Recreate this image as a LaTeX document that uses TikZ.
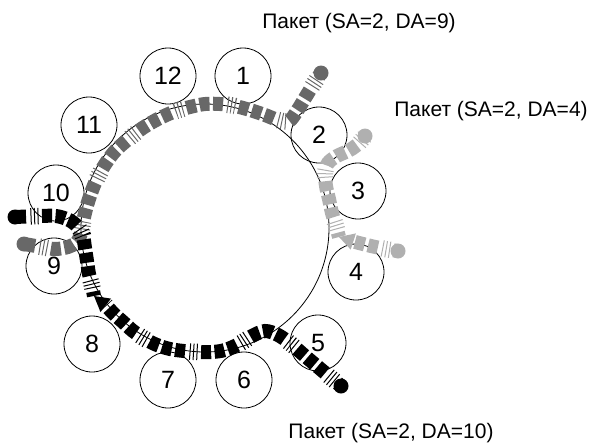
\documentclass[tikz,border=0pt]{standalone}
\usepackage{fontspec}
\setmainfont{Liberation Sans}
\definecolor{pktdark}{HTML}{686868}
\definecolor{pktlight}{HTML}{B0B0B0}
\tikzset{
  ringline/.style={draw=black, line width=0.8pt},
  station/.style={draw=black, line width=0.8pt, circle, minimum size=56pt, inner sep=0pt,
                  font=\fontsize{25}{29}\selectfont},
  pkttext/.style={font=\fontsize{21}{25}\selectfont, anchor=base},
  blocks/.style={draw=#1, line width=14pt,
                 dash pattern=on 10pt off 3.5pt on 10pt off 3.5pt on 10pt off 16pt, dash phase=32.5pt},
  ticks/.style={draw=#1, line width=16.5pt,
                dash pattern=on 1pt off 2.5pt on 1pt off 2.5pt on 1pt off 45pt, dash phase=45pt},
  pkt/.style={blocks=#1, postaction={ticks=#1}},
  blob/.style={fill=#1},
  pktpath/.style={smooth, tension=0.55}
}
\begin{document}
\begin{tikzpicture}[x=1pt,y=-1pt]
\useasboundingbox (0,0) rectangle (591,447);

% ring
\node[ringline, circle, minimum size=248pt, inner sep=0pt] (ring) at (205,228) {};

% stations
\node[station] (s1)  at (243,76)  {1};
\node[station] (s2)  at (319,135) {2};
\node[station] (s3)  at (358,191) {3};
\node[station] (s4)  at (356,272) {4};
\node[station] (s5)  at (318,343) {5};
\node[station] (s6)  at (244,380) {6};
\node[station] (s7)  at (168,380) {7};
\node[station] (s8)  at (92,344)  {8};
\node[station] (s9)  at (54,266)  {9};
\node[station] (s10) at (56,193)  {10};
\node[station] (s11) at (89,125)  {11};
\node[station] (s12) at (168,76)  {12};

% packet end points
\coordinate (gA) at (321,73);
\coordinate (gB) at (24,244);
\coordinate (lA) at (398,251);
\coordinate (lB) at (365,136);
\coordinate (lTip) at (339,237);
\coordinate (lBase) at (353.3,241.5);
\coordinate (kA) at (341,386);
\coordinate (kB) at (15,217);
\coordinate (kTip) at (94,296);
\coordinate (kBase) at (105.8,305.3);

% dark gray packet (SA=2, DA=9)
\draw[pkt=pktdark] plot[pktpath] coordinates {(gA) (313,85) (305,98) (297,111) (289,121)
  (278,120) (265,115) (250,110) (235,106) (220,104) (205,104) (190,107) (176,111)
  (162,117) (149,124) (137,132) (126,141) (116,150) (108,160) (101,171) (95,183)
  (90,196) (86,209) (83,222) (81,233) (77,242) (68,247) (55,249) (42,247) (gB)};

% light gray packet (SA=2, DA=4)
\draw[pkt=pktlight] plot[pktpath] coordinates {(lA) (385,249) (371,246) (361,243.5) (lBase)};
\draw[pkt=pktlight] plot[pktpath] coordinates {(lTip) (336,226) (332,213) (329,199) (326,186)
  (325,173) (328,163) (337,156) (348,151) (357,145) (lB)};
\fill[pktlight] (lTip) -- (355.9,233.4) -- (350.7,249.6) -- cycle;

% black packet (SA=2, DA=10)
\draw[pkt=black] plot[pktpath] coordinates {(kA) (330,377) (318,367) (305,356) (291,344)
  (278,335) (265,331) (252,336) (239,344) (225,350) (212,352) (198,352) (184,351)
  (170,349) (157,345) (145,339) (133,331) (123,322) (114,314) (kBase)};
\draw[pkt=black] plot[pktpath] coordinates {(kTip) (92,286) (89,274) (87,261) (85,248)
  (83,236) (78,227) (69,220) (56,216) (40,216) (kB)};
\fill[black] (kTip) -- (111.0,298.6) -- (100.5,312.0) -- cycle;

% end dots
\fill[blob=pktdark] (gA) circle[radius=7.5pt];
\fill[blob=pktdark] (gB) circle[radius=7.5pt];
\fill[blob=pktlight] (lA) circle[radius=7.5pt];
\fill[blob=pktlight] (lB) circle[radius=7.5pt];
\fill[blob=black] (kA) circle[radius=7.5pt];
\fill[blob=black] (kB) circle[radius=7.5pt];

% captions
\node[pkttext] (t9)  at (359,28)  {Пакет (SA=2, DA=9)};
\node[pkttext] (t4)  at (491,116) {Пакет (SA=2, DA=4)};
\node[pkttext] (t10) at (391,438) {Пакет (SA=2, DA=10)};
\end{tikzpicture}
\end{document}
